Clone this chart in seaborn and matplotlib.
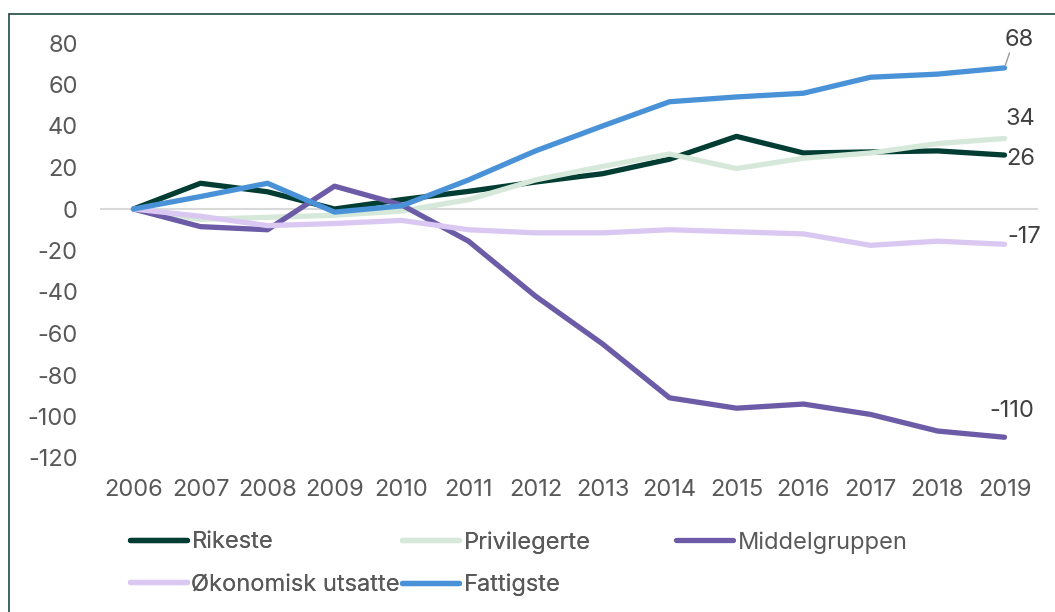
import pandas as pd
import matplotlib.pyplot as plt
import seaborn as sns
from matplotlib.lines import Line2D

# data
years = list(range(2006, 2020))
rikeste = [0, 12.4, 8.3, 0, 4.5, 8.5, 13, 17, 24, 35, 27, 27.5, 28, 26]
privilegerte = [0, -5, -4, -3, -1, 4.5, 14, 20.5, 26.5, 19.5, 24.5, 27, 31.5, 34]
middelgruppen = [0, -8.5, -10, 11, 2, -15.5, -42, -65, -91, -96, -94, -99, -107, -110]
okonomisk_utsatte = [0, -3.5, -8, -7, -5.5, -10, -11.5, -11.5, -10, -11, -12, -17.5, -15.5, -17]
fattigste = [0, 6, 12.4, -1.5, 1.5, 14, 28, 40, 51.7, 54, 55.8, 63.5, 65, 68]

groups = ['Rikeste', 'Privilegerte', 'Middelgruppen', 'Økonomisk utsatte', 'Fattigste']
colors = ['#013d33', '#d5e8d9', '#6c5ba7', '#dbc8f2', '#4a92d8']
end_labels = ['26', '34', '-110', '-17', '68']

df = pd.DataFrame({
    'year': years * 5,
    'value': rikeste + privilegerte + middelgruppen + okonomisk_utsatte + fattigste,
    'group': sum([[g] * len(years) for g in groups], []),
})

sns.set_style('white')
plt.rcParams['font.family'] = ['Inter', 'DejaVu Sans']
plt.rcParams['axes.unicode_minus'] = False

fs = 17

fig = plt.figure(figsize=(10.55, 6.12), dpi=100)
ax = fig.add_axes([100 / 1055, 1 - 458 / 612, 938 / 1055, 415 / 612])

# zero line behind the series
ax.axhline(0, color='#d9d9d9', lw=1.5, zorder=0)

sns.lineplot(data=df, x='year', y='value', hue='group', hue_order=groups,
             palette=colors, lw=3.8, ax=ax, legend=False,
             solid_capstyle='round', solid_joinstyle='round')

ax.set_xlim(2005.5, 2019.5)
ax.set_ylim(-120, 80)
ax.set_xticks(years)
ax.set_xticklabels([str(y) for y in years])
ax.set_yticks(range(-120, 81, 20))
ax.set_xlabel('')
ax.set_ylabel('')
ax.tick_params(axis='both', length=0, labelsize=fs, labelcolor='#595959')
ax.tick_params(axis='y', pad=16)
ax.tick_params(axis='x', pad=15)
for s in ax.spines.values():
    s.set_visible(False)

# end-of-line labels
series = [rikeste, privilegerte, middelgruppen, okonomisk_utsatte, fattigste]
offsets = [(16, -4), (16, 19), (7, 26), (20, 7), (15, 28)]
for vals, lab, off in zip(series, end_labels, offsets):
    ax.annotate(lab, xy=(years[-1], vals[-1]), xytext=off,
                textcoords='offset pixels', ha='center', va='center',
                fontsize=fs, color='#404040', annotation_clip=False)

# leader line for the top label
ax.annotate('', xy=(years[-1], fattigste[-1]), xytext=(5, 15),
            textcoords='offset pixels', annotation_clip=False,
            arrowprops=dict(arrowstyle='-', color='#9a9a9a', lw=1,
                            shrinkA=0, shrinkB=2))

# legend in the Excel-like flow layout
handles = {g: Line2D([0], [0], color=c, lw=3.8, solid_capstyle='round')
           for g, c in zip(groups, colors)}
order = ['Rikeste', 'Økonomisk utsatte', 'Privilegerte', 'Fattigste']
leg1 = fig.legend([handles[g] for g in order], order, ncol=2,
                  loc='upper left', bbox_to_anchor=(130 / 1055, 1 - 531 / 612),
                  frameon=False, fontsize=fs, labelcolor='#595959',
                  handlelength=2.4, handletextpad=0.2, columnspacing=0.1,
                  labelspacing=0.85, borderpad=0, borderaxespad=0)
leg2 = fig.legend([handles['Middelgruppen']], ['Middelgruppen'],
                  loc='upper left', bbox_to_anchor=(676 / 1055, 1 - 531 / 612),
                  frameon=False, fontsize=fs, labelcolor='#595959',
                  handlelength=2.4, handletextpad=0.2,
                  borderpad=0, borderaxespad=0)
fig.add_artist(leg1)

# chart frame (left and top edges visible)
frame_color = '#1e4a42'
fig.add_artist(Line2D([9 / 1055, 9 / 1055], [0, 1 - 14 / 612], color=frame_color, lw=1.2))
fig.add_artist(Line2D([9 / 1055, 1], [1 - 14 / 612, 1 - 14 / 612], color=frame_color, lw=1.2))

plt.savefig('out.png', dpi=100)
